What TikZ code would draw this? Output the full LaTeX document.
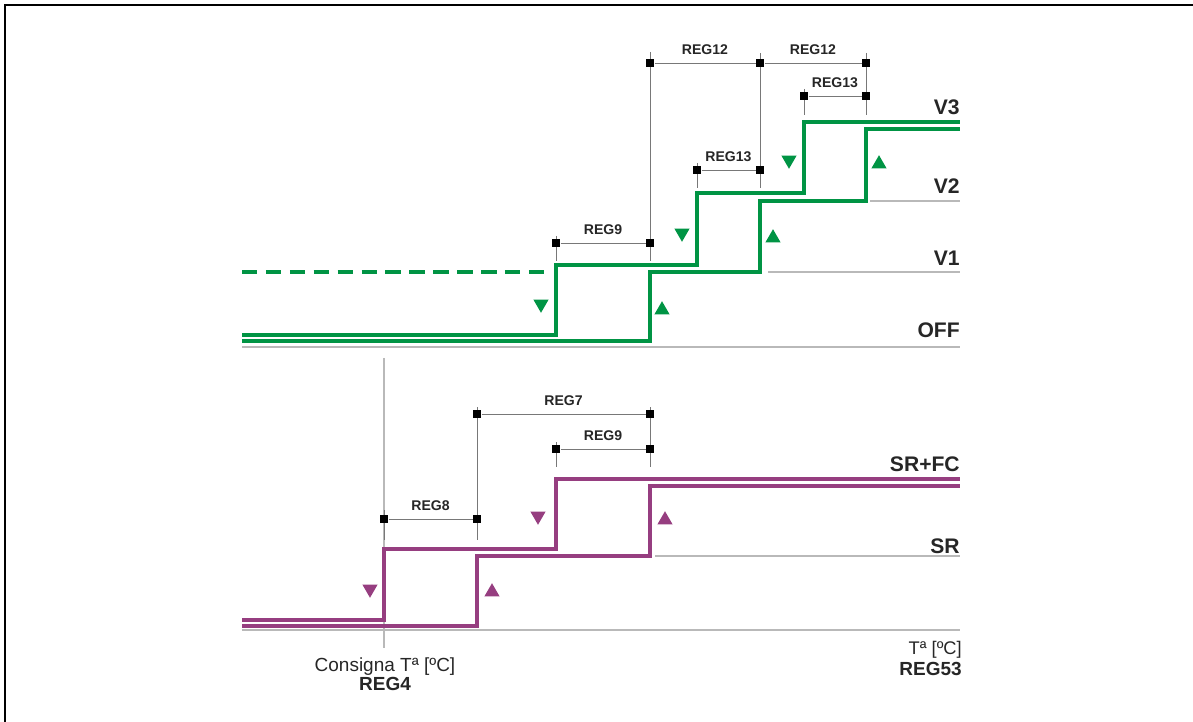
\documentclass[tikz,border=0pt]{standalone}
\usepackage{fontspec}
\setmainfont{Liberation Sans}
\usetikzlibrary{shapes.geometric}

\definecolor{fanGreen}{RGB}{0,148,68}
\definecolor{fanPurple}{RGB}{150,62,128}
\definecolor{axisGray}{RGB}{185,185,185}
\definecolor{dimGray}{RGB}{120,120,120}

\tikzset{
  stepln/.style={line width=2.3pt},
  axisln/.style={axisGray, line width=0.8pt},
  extln/.style={dimGray, line width=0.6pt},
  dimln/.style={dimGray, line width=0.7pt},
  sqmark/.style={fill=black, draw=none, minimum size=6pt, inner sep=0pt},
  reglbl/.style={above=2pt, font=\bfseries\fontsize{10}{12}\selectfont, text=black!85},
  lvllbl/.style={anchor=base east, inner sep=0pt, font=\bfseries\fontsize{15}{17}\selectfont, text=black!85},
  triup/.style={regular polygon, regular polygon sides=3, minimum size=12.5pt, inner sep=0pt, draw=none},
  tridn/.style={triup, shape border rotate=180}
}

\begin{document}
\begin{tikzpicture}[x=0.025cm, y=-0.025cm]
\useasboundingbox (0,0) rectangle (1193,722);
%% frame
\draw[line width=1.4pt] (5,722) -- (5,5) -- (1193,5);

%% Upper panel: fan speeds
\draw[axisln] (242,347) -- (960,347);
\draw[axisln] (768,272) -- (960,272);
\draw[axisln] (870,201) -- (960,201);
\node[lvllbl] (lOFF) at (960,338) {OFF};
\node[lvllbl] (lV1) at (960,266) {V1};
\node[lvllbl] (lV2) at (960,194) {V2};
\node[lvllbl] (lV3) at (960,115) {V3};

\draw[extln] (556,236) -- (556,261);
\draw[extln] (650,52) -- (650,261);
\draw[extln] (697,163) -- (697,188);
\draw[extln] (760,53) -- (760,188);
\draw[extln] (804,89) -- (804,115);
\draw[extln] (866,53) -- (866,115);

\node[sqmark] (u9a) at (556,243) {};
\node[sqmark] (u9b) at (650,243) {};
\node[sqmark] (u13a) at (697,170) {};
\node[sqmark] (u13b) at (760,170) {};
\node[sqmark] (u12a) at (650,63) {};
\node[sqmark] (u12b) at (760,63) {};
\node[sqmark] (u12c) at (866,63) {};
\node[sqmark] (u13c) at (804,96) {};
\node[sqmark] (u13d) at (866,96) {};
\draw[dimln] (u9a) -- node[reglbl] {REG9} (u9b);
\draw[dimln] (u13a) -- node[reglbl] {REG13} (u13b);
\draw[dimln] (u12a) -- node[reglbl] {REG12} (u12b);
\draw[dimln] (u12b) -- node[reglbl] {REG12} (u12c);
\draw[dimln] (u13c) -- node[reglbl] {REG13} (u13d);

\draw[fanGreen, stepln, dashed, dash pattern=on 11pt off 6pt] (242,272) -- (548,272);
\draw[fanGreen, stepln] (242,335) -- (556,335) -- (556,265) -- (697,265)
  -- (697,193) -- (804,193) -- (804,122) -- (960,122);
\draw[fanGreen, stepln] (242,341) -- (650,341) -- (650,272) -- (760,272)
  -- (760,201) -- (866,201) -- (866,129) -- (960,129);

\node[tridn, fill=fanGreen] (gd1) at (541,304) {};
\node[tridn, fill=fanGreen] (gd2) at (682,233) {};
\node[tridn, fill=fanGreen] (gd3) at (789,160) {};
\node[triup, fill=fanGreen] (gu1) at (662,310) {};
\node[triup, fill=fanGreen] (gu2) at (773,238) {};
\node[triup, fill=fanGreen] (gu3) at (879,164) {};

%% Lower panel: SR / SR+FC
\draw[axisln] (242,630) -- (960,630);
\draw[axisln] (655,556) -- (960,556);
\node[lvllbl] (lSR) at (960,553) {SR};
\node[lvllbl] (lSRFC) at (960,471) {SR+FC};

\draw[axisln] (384,358) -- (384,648);
\draw[extln] (384,510) -- (384,540);
\draw[extln] (477,407) -- (477,540);
\draw[extln] (556,442) -- (556,467);
\draw[extln] (650,407) -- (650,467);

\node[sqmark] (d8a) at (384,519) {};
\node[sqmark] (d8b) at (477,519) {};
\node[sqmark] (d7a) at (477,414) {};
\node[sqmark] (d7b) at (650,414) {};
\node[sqmark] (d9a) at (556,449) {};
\node[sqmark] (d9b) at (650,449) {};
\draw[dimln] (d8a) -- node[reglbl] {REG8} (d8b);
\draw[dimln] (d7a) -- node[reglbl] {REG7} (d7b);
\draw[dimln] (d9a) -- node[reglbl] {REG9} (d9b);

\draw[fanPurple, stepln] (242,620) -- (384,620) -- (384,549) -- (556,549)
  -- (556,479) -- (960,479);
\draw[fanPurple, stepln] (242,626) -- (477,626) -- (477,556) -- (650,556)
  -- (650,486) -- (960,486);

\node[tridn, fill=fanPurple] (pd1) at (370,589) {};
\node[tridn, fill=fanPurple] (pd2) at (538,516) {};
\node[triup, fill=fanPurple] (pu1) at (492,592) {};
\node[triup, fill=fanPurple] (pu2) at (665,520) {};

%% axis texts
\node[anchor=base, inner sep=0pt, font=\fontsize{13.5}{15}\selectfont, text=black!85] (consigna) at (385,671) {Consigna Tª [ºC]};
\node[anchor=base, inner sep=0pt, font=\bfseries\fontsize{13.5}{15}\selectfont, text=black!85] (reg4) at (385,690) {REG4};
\node[anchor=base east, inner sep=0pt, font=\fontsize{13}{15}\selectfont, text=black!85] (tamb) at (962,654) {Tª [ºC]};
\node[anchor=base east, inner sep=0pt, font=\bfseries\fontsize{13.5}{15}\selectfont, text=black!85] (reg53) at (962,675) {REG53};
\end{tikzpicture}
\end{document}
